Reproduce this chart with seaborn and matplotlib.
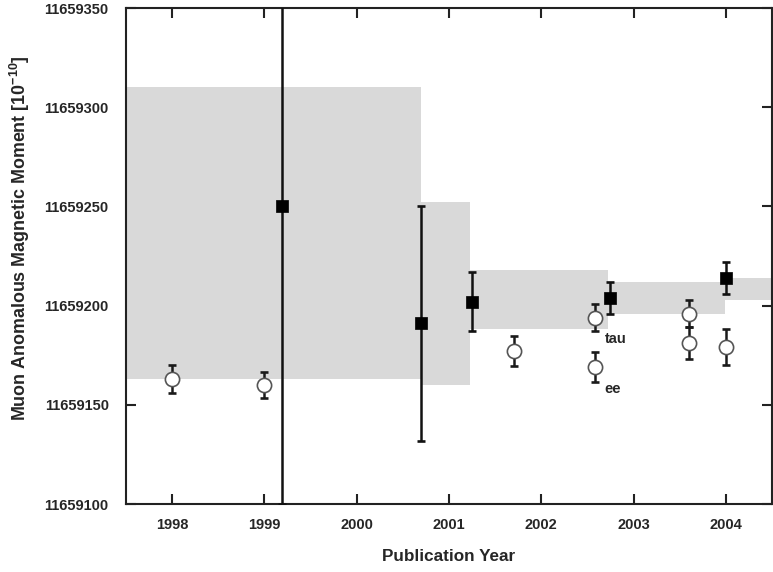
import matplotlib
matplotlib.use("Agg")
import matplotlib.pyplot as plt
import numpy as np
import pandas as pd
import seaborn as sns

# Experimental results (BNL E821), units of 1e-10
exp_year = [1999.19, 2000.70, 2001.25, 2002.74, 2004.00]
exp_value = [11659250, 11659191, 11659202, 11659204, 11659214]
exp_err = [150, 59, 15, 8, 8]

# Standard-model predictions
sm_year = [1998.00, 1999.00, 2001.70, 2002.58, 2002.58, 2003.60, 2003.60, 2004.00]
sm_value = [11659163, 11659160, 11659177, 11659194, 11659169, 11659196, 11659181, 11659179]
sm_err = [7, 6.5, 7.5, 7, 7.5, 7, 8, 9]

# World-average bands: [start, end) in years with low/high values
band_start = [1997.5, 2000.70, 2001.23, 2002.72, 2003.99]
band_end = [2000.70, 2001.23, 2002.72, 2003.99, 2004.5]
band_low = [11659163, 11659160, 11659188, 11659196, 11659203]
band_high = [11659310, 11659252, 11659218, 11659212, 11659214]

# Annotations for the two 2002 predictions
note_text = ["tau", "ee"]
note_year = [2002.69, 2002.68]
note_value = [11659183, 11659158]

x_ticks = [1998, 1999, 2000, 2001, 2002, 2003, 2004]
y_ticks = [11659100, 11659150, 11659200, 11659250, 11659300, 11659350]

sns.set_style("ticks")
plt.rcParams["font.family"] = ["Liberation Sans", "DejaVu Sans"]
plt.rcParams["font.weight"] = "bold"
plt.rcParams["mathtext.fontset"] = "custom"
plt.rcParams["mathtext.rm"] = "Liberation Sans:bold"
plt.rcParams["mathtext.bf"] = "Liberation Sans:bold"
plt.rcParams["mathtext.it"] = "Liberation Sans:bold"

fig = plt.figure(figsize=(7.73, 5.72), dpi=100)
ax = fig.add_axes([126 / 773, 68 / 572, 646 / 773, 496 / 572])

for x0, x1, lo, hi in zip(band_start, band_end, band_low, band_high):
    ax.fill_between([x0, x1], [lo, lo], [hi, hi], color="#d9d9d9",
                    linewidth=0, zorder=1)

exp_df = pd.DataFrame({"year": exp_year, "value": exp_value, "err": exp_err})
sm_df = pd.DataFrame({"year": sm_year, "value": sm_value, "err": sm_err})

ax.errorbar(sm_df["year"], sm_df["value"], yerr=sm_df["err"], fmt="none",
            ecolor="#1a1a1a", elinewidth=1.8, capsize=3.2, capthick=1.9, zorder=3)
ax.errorbar(exp_df["year"], exp_df["value"], yerr=exp_df["err"], fmt="none",
            ecolor="#111111", elinewidth=1.8, capsize=3.2, capthick=1.9, zorder=3)

sns.scatterplot(data=sm_df, x="year", y="value", ax=ax, marker="o", s=105,
                facecolor="white", edgecolor="#555555", linewidth=1.2, zorder=4)
sns.scatterplot(data=exp_df, x="year", y="value", ax=ax, marker="s", s=78,
                color="black", edgecolor="black", linewidth=0.5, zorder=5)

for t, xv, yv in zip(note_text, note_year, note_value):
    ax.text(xv, yv, t, fontsize=10.5, fontweight="bold", ha="left", va="center",
            zorder=6)

ax.set_xlim(1997.5, 2004.5)
ax.set_ylim(11659100, 11659350)
ax.set_xticks(x_ticks)
ax.set_yticks(y_ticks)
ax.ticklabel_format(axis="y", useOffset=False, style="plain")
ax.tick_params(direction="in", length=7, width=1.5, top=True, right=True,
               labelsize=10.5, color="#222222")
ax.tick_params(axis="y", pad=12.5)
ax.tick_params(axis="x", pad=10)
for lab in ax.get_xticklabels() + ax.get_yticklabels():
    lab.set_fontweight("bold")
for sp in ax.spines.values():
    sp.set_linewidth(1.5)
    sp.set_color("#222222")

ax.set_xlabel("Publication Year", fontsize=12.3, fontweight="bold", labelpad=12)
ax.set_ylabel(r"Muon Anomalous Magnetic Moment [10$^{-10}$]", fontsize=12.9,
              fontweight="bold")
ax.yaxis.set_label_coords(-0.145, 0.536)

fig.savefig("out.png", dpi=100)
